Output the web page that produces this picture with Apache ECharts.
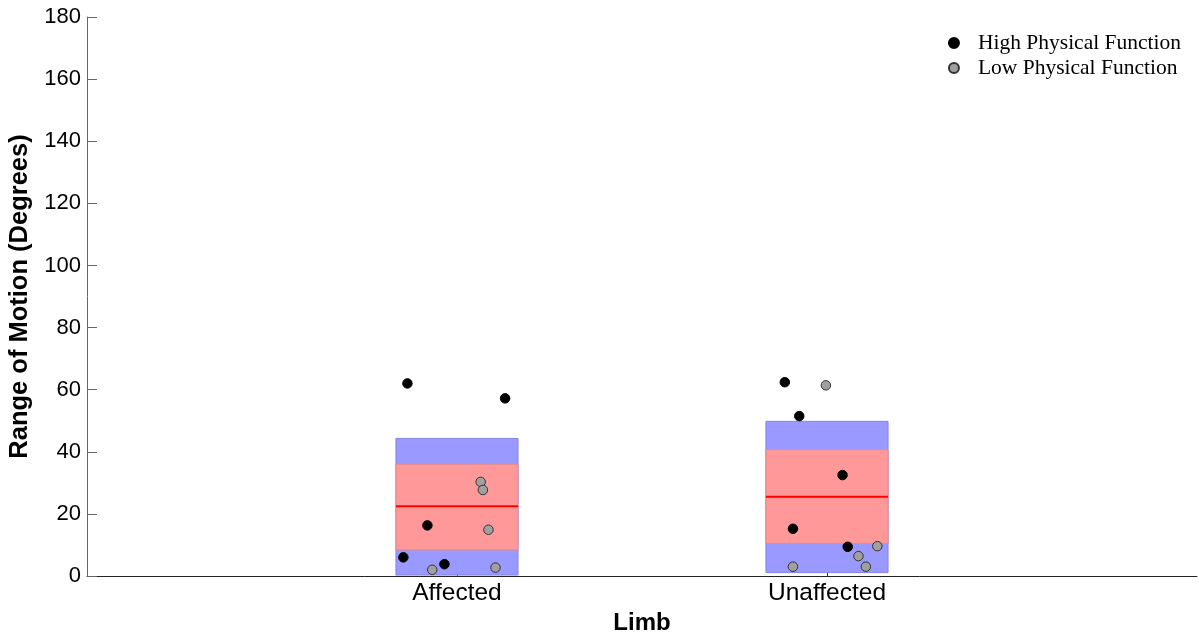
<!DOCTYPE html>
<html>
<head>
<meta charset="utf-8">
<script src="https://cdn.jsdelivr.net/npm/echarts@6/dist/echarts.min.js"></script>
<style>
  html, body { margin: 0; padding: 0; background: #fff; }
  #chart { width: 1199px; height: 634px; }
</style>
</head>
<body>
<div id="chart"></div>
<script>
// Limb groups placed at x = 1 and x = 2
const categories = ['Affected', 'Unaffected'];
const categoryPos = [1, 2];

// Box bands (degrees): outer range, inner range, median
const outerLow = [0.3, 1.1];
const outerHigh = [44.3, 49.8];
const innerLow = [8.4, 10.5];
const innerHigh = [36.0, 40.7];
const medians = [22.5, 25.5];

// Individual subjects: [jittered x position, range of motion]
const highFunction = [
  [0.866, 62.0], [1.130, 57.2], [0.920, 16.3], [0.855, 6.0], [0.966, 3.8],
  [1.886, 62.4], [1.925, 51.5], [2.042, 32.5], [1.908, 15.2], [2.056, 9.4]
];
const lowFunction = [
  [1.064, 30.3], [1.070, 27.7], [1.085, 14.9], [0.933, 2.0], [1.104, 2.7],
  [1.997, 61.4], [2.136, 9.6], [2.085, 6.4], [1.908, 3.0], [2.105, 3.0]
];

const yTicks = [0, 20, 40, 60, 80, 100, 120, 140, 160, 180];
const halfWidth = 0.165;

function bandData(lows, highs) {
  return categoryPos.map((x, i) => [x, lows[i], highs[i]]);
}

function bandRender(fill, stroke) {
  return function (params, api) {
    const x = api.value(0);
    const p0 = api.coord([x - halfWidth, api.value(2)]);
    const p1 = api.coord([x + halfWidth, api.value(1)]);
    return {
      type: 'rect',
      shape: { x: p0[0], y: p0[1], width: p1[0] - p0[0], height: p1[1] - p0[1] },
      style: { fill: fill, stroke: stroke, lineWidth: 1 }
    };
  };
}

function medianRender(params, api) {
  const x = api.value(0);
  const a = api.coord([x - halfWidth, api.value(1)]);
  const b = api.coord([x + halfWidth, api.value(1)]);
  return {
    type: 'line',
    shape: { x1: a[0], y1: a[1], x2: b[0], y2: b[1] },
    style: { stroke: '#ff0000', lineWidth: 2 }
  };
}

const chart = echarts.init(document.getElementById('chart'));
chart.setOption({
  animation: false,
  grid: { left: 87, right: 2, top: 17, bottom: 58, outerBoundsMode: 'none' },
  legend: {
    orient: 'vertical',
    right: 13,
    top: 27,
    itemGap: 3,
    itemWidth: 10,
    itemHeight: 10,
    data: [
      { name: 'High Physical Function', icon: 'circle' },
      { name: 'Low Physical Function', icon: 'circle' }
    ],
    textStyle: { fontFamily: 'Liberation Serif', fontSize: 21.5, color: '#000', padding: [0, 0, 0, 14] }
  },
  xAxis: {
    type: 'value',
    min: 0,
    max: 3,
    interval: 1,
    splitLine: { show: false },
    axisLine: { show: true, lineStyle: { color: '#222', width: 1 } },
    axisTick: { show: true, inside: true, length: 6, customValues: categoryPos, lineStyle: { color: '#333' } },
    axisLabel: {
      customValues: categoryPos,
      formatter: v => categories[categoryPos.indexOf(v)] || '',
      fontFamily: 'Liberation Sans', fontSize: 24.5, color: '#000', margin: 5
    },
    name: 'Limb',
    nameLocation: 'middle',
    nameGap: 23,
    nameTextStyle: { fontFamily: 'Liberation Sans', fontSize: 24, fontWeight: 'bold', color: '#000' }
  },
  yAxis: {
    type: 'value',
    min: 0,
    max: 180,
    interval: 20,
    splitLine: { show: false },
    axisLine: { show: true, lineStyle: { color: '#666', width: 1 } },
    axisTick: { show: true, inside: true, length: 10, customValues: yTicks, lineStyle: { color: '#666' } },
    axisLabel: { fontFamily: 'Liberation Sans', fontSize: 22, color: '#000', margin: 6 },
    name: 'Range of Motion (Degrees)',
    nameLocation: 'middle',
    nameGap: 54,
    nameTextStyle: { fontFamily: 'Liberation Sans', fontSize: 25.5, fontWeight: 'bold', color: '#000' }
  },
  series: [
    {
      type: 'custom',
      name: 'outer',
      renderItem: bandRender('#9999ff', '#8585e6'),
      data: bandData(outerLow, outerHigh),
      encode: { x: 0, y: [1, 2] },
      z: 1,
      silent: true
    },
    {
      type: 'custom',
      name: 'inner',
      renderItem: bandRender('#ff9999', '#e68a8a'),
      data: bandData(innerLow, innerHigh),
      encode: { x: 0, y: [1, 2] },
      z: 2,
      silent: true
    },
    {
      type: 'custom',
      name: 'median',
      renderItem: medianRender,
      data: categoryPos.map((x, i) => [x, medians[i]]),
      encode: { x: 0, y: 1 },
      z: 3,
      silent: true
    },
    {
      type: 'scatter',
      name: 'High Physical Function',
      data: highFunction,
      symbol: 'circle',
      symbolSize: 9.5,
      itemStyle: { color: '#000', borderColor: '#000', borderWidth: 1, opacity: 1 },
      z: 5
    },
    {
      type: 'scatter',
      name: 'Low Physical Function',
      data: lowFunction,
      symbol: 'circle',
      symbolSize: 9.5,
      itemStyle: { color: '#a0a0a0', borderColor: '#333', borderWidth: 1, opacity: 1 },
      z: 5
    }
  ]
});
</script>
</body>
</html>
